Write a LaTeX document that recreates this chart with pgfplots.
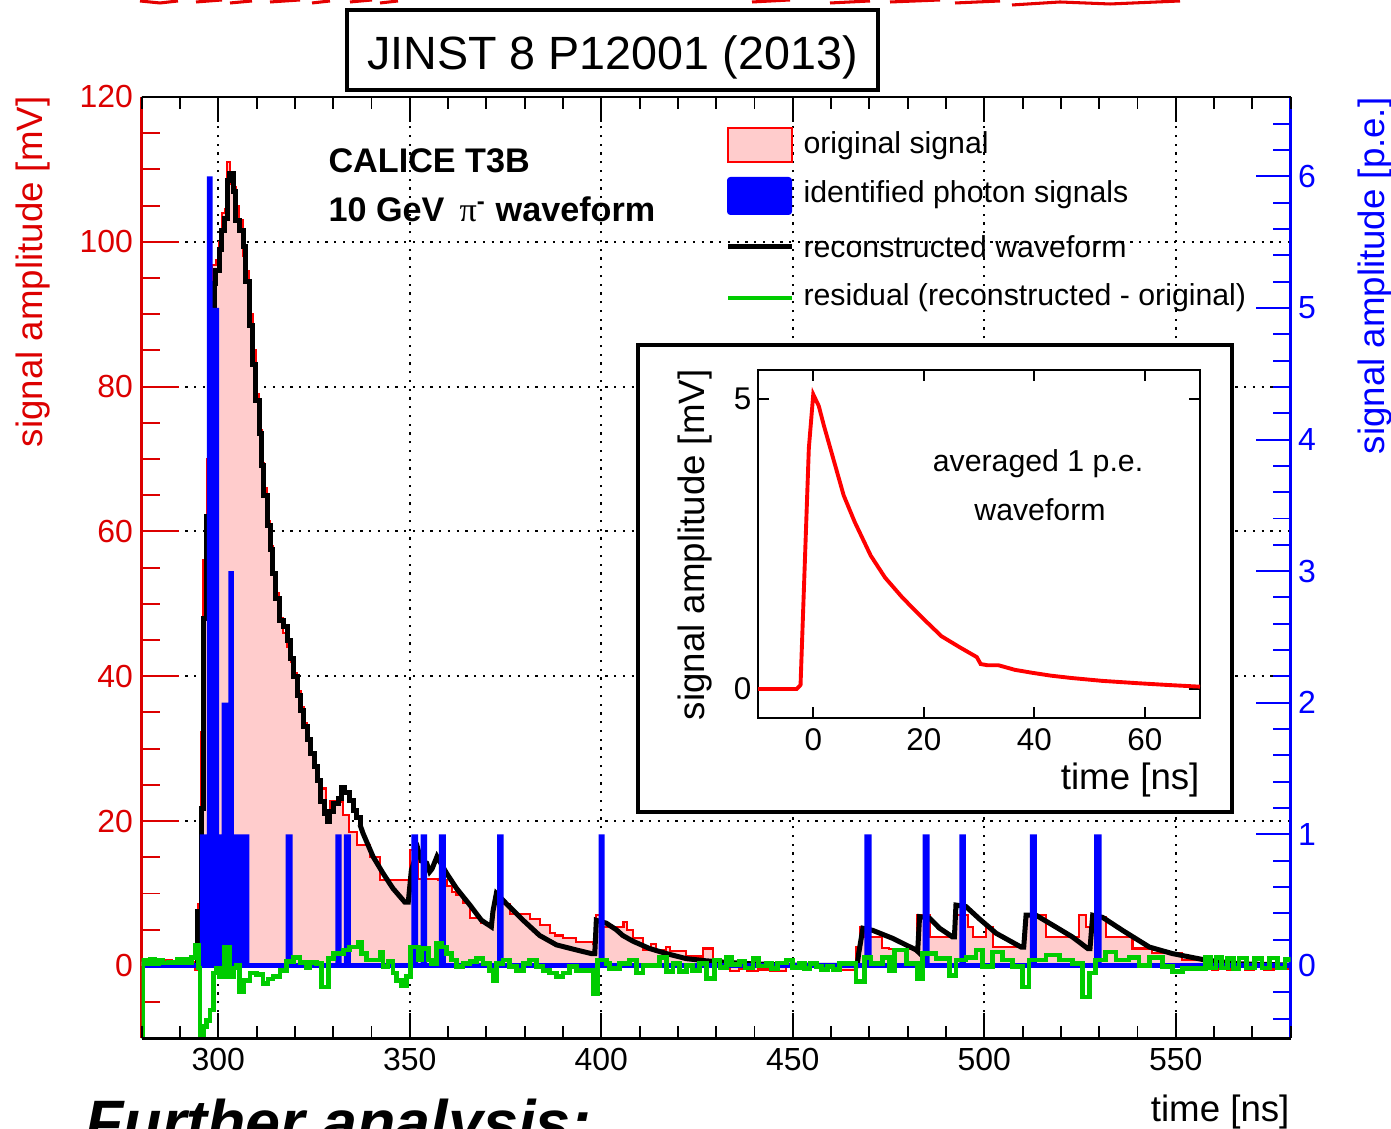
\documentclass[border=0pt]{standalone}
\usepackage{fontspec}
\setmainfont{Liberation Sans}
\newfontfamily\greekserif{Liberation Serif}
\usepackage{pgfplots}
\pgfplotsset{compat=1.18}
\usepackage{pgfplotstable}

\definecolor{axred}{RGB}{220,0,0}
\definecolor{pinkfill}{RGB}{255,204,204}
\definecolor{resgreen}{RGB}{0,204,0}
\definecolor{axblue}{RGB}{0,0,255}

\pgfplotsset{
  mainbox/.style={scale only axis, width=413.64pt, height=338.87pt,
    at={(51.01pt,32.65pt)}, anchor=south west, xmin=280, xmax=580},
  mvaxis/.style={mainbox, ymin=-10, ymax=120},
  peaxis/.style={mainbox, ymin=-0.55, ymax=6.603},
}

% original signal (mV), bin left edge and content
\pgfplotstableread{
x y
280.0 0.6
281.6 0.3
283.2 0.8
284.8 0.4
286.4 0.8
288.0 0.3
289.6 0.7
291.2 0.4
292.8 0.6
293.8 -0.6
294.6 8.5
295.4 32.3
296.1 56.0
297.0 70.0
297.8 84.0
298.4 96.8
299.4 97.5
300.2 100.0
300.9 104.0
301.7 104.5
302.3 111.0
303.0 108.0
303.9 107.5
304.6 105.0
305.5 103.0
306.5 98.0
307.2 96.0
308.1 90.0
309.0 85.0
309.8 79.0
310.7 74.0
311.3 69.5
311.9 66.0
312.8 61.5
313.5 58.0
314.2 54.2
315.0 51.5
315.9 48.0
316.9 46.0
318.0 44.0
318.9 42.0
319.7 40.5
320.6 38.0
321.5 35.8
322.3 33.5
323.2 31.5
324.1 29.4
325.0 27.5
325.8 25.6
326.7 24.5
328.2 21.3
329.1 22.7
332.6 20.8
334.2 18.5
336.1 16.7
339.6 15.1
342.2 11.8
350.0 16.0
352.2 12.0
357.5 11.8
359.6 11.0
361.0 10.2
362.2 9.8
363.9 8.7
365.7 6.6
368.7 5.9
370.9 5.4
371.7 8.7
373.5 8.8
374.5 8.5
376.1 7.2
381.3 6.5
383.9 5.6
385.2 5.6
386.5 4.5
388.0 4.2
390.0 3.8
393.5 3.3
397.8 3.0
398.5 7.0
400.5 5.4
402.5 5.4
405.8 6.1
406.7 5.0
408.3 3.8
410.9 2.2
413.0 3.0
414.3 2.2
417.0 2.6
418.0 2.0
422.2 1.3
426.5 2.4
429.1 0.6
433.5 -0.7
436.0 -0.4
438.0 -0.7
441.0 -0.5
444.0 -0.7
448.3 -0.2
451.7 -0.1
457.0 0.1
462.0 -0.6
466.5 2.6
467.5 5.4
468.7 4.0
473.3 2.5
475.2 2.3
482.4 7.0
485.7 4.0
490.9 4.2
492.4 7.0
495.7 5.4
497.0 4.0
500.5 5.4
502.2 2.6
510.6 7.0
516.1 4.0
524.8 7.0
526.5 5.4
528.3 6.8
531.7 4.0
538.7 2.4
543.9 1.8
551.7 0.8
557.8 0.2
559.5 -0.6
561.0 0.3
563.5 -0.5
565.5 0.2
568.0 -0.6
570.5 0.3
573.0 -0.5
575.5 0.2
578.0 -0.4
580.0 -0.4
}\origdata

% reconstructed waveform, stepped part (mV)
\pgfplotstableread{
x y
280.0 0.0
294.6 7.5
295.6 21.8
296.2 48.0
297.0 62.0
297.8 76.0
298.4 91.0
298.9 94.3
299.4 96.0
300.2 99.0
300.9 101.6
301.7 103.2
302.3 108.5
303.0 109.4
303.9 106.9
304.6 103.0
305.5 101.6
306.5 99.3
307.2 94.5
308.1 88.5
309.0 83.0
309.8 78.1
310.7 73.5
311.3 69.1
311.9 65.0
312.8 60.8
313.5 57.5
314.2 54.2
315.0 50.8
315.9 47.7
316.9 46.9
318.0 45.0
318.9 42.5
319.7 39.9
320.6 37.4
321.5 35.3
322.3 33.0
323.2 31.2
324.1 29.4
325.0 27.5
325.8 25.6
326.7 22.7
327.6 21.0
328.4 19.9
329.1 21.3
330.2 22.4
331.3 23.1
332.2 24.7
333.0 24.0
334.2 22.9
335.2 21.5
336.1 20.5
337.0 19.5
}\recstep

% reconstructed waveform, smooth part (mV)
\pgfplotstableread{
x y
337.0 19.5
337.8 18.3
340.4 15.1
343.0 12.8
345.6 10.7
348.7 8.8
349.6 8.8
350.4 13.2
351.5 15.0
352.2 16.0
353.0 14.5
354.4 14.2
355.2 13.0
355.8 13.4
357.1 15.1
359.6 12.8
362.2 10.7
365.7 8.4
368.7 6.3
371.3 5.4
371.7 7.5
372.6 10.0
375.2 8.6
379.6 6.3
383.9 4.2
388.3 2.9
393.5 2.2
397.4 1.7
398.3 1.7
398.7 6.3
401.3 5.9
403.9 5.0
405.6 4.2
408.3 3.4
412.6 2.4
417.0 1.7
422.2 1.0
427.4 0.7
432.6 0.5
438.7 0.3
450.0 0.1
466.8 0.05
467.2 1.7
468.3 5.2
470.9 4.9
476.1 3.8
482.2 2.2
482.6 2.0
483.1 6.8
485.7 6.6
488.3 5.2
491.7 4.0
492.2 4.0
492.6 8.4
495.2 8.2
498.7 6.5
503.1 4.5
509.6 2.6
510.3 2.6
510.9 7.0
513.5 7.0
517.0 5.9
523.0 4.0
527.0 2.4
527.6 2.4
528.3 7.0
530.9 6.7
536.1 4.9
543.1 2.6
549.1 1.7
557.8 0.8
566.5 0.3
580.0 0.1
}\recsmooth

% residual (mV)
\pgfplotstableread{
x y
280.0 -11
280.3 0.8
281.3 0.3
282.3 0.9
283.3 0.3
284.3 0.8
285.5 0.4
287.0 0.5
288.5 0.4
289.3 0.9
290.0 0.4
290.6 0.9
291.2 0.4
291.8 0.9
292.4 0.5
293.0 1.2
293.9 2.9
294.8 -0.3
295.2 -11
296.1 -8.4
297.0 -7.5
297.8 -6.1
298.7 -1.0
299.6 -0.3
300.4 -1.5
301.7 2.6
303.0 -1.5
303.9 -0.3
304.8 0.1
305.6 -3.6
306.5 -2.0
308.3 -1.0
310.0 -1.2
311.7 -2.4
313.0 -1.8
314.3 -1.5
316.1 -0.6
317.8 0.6
319.6 1.2
321.3 0.5
323.0 -0.3
323.9 0.5
325.7 0.3
327.0 -2.9
328.7 1.0
330.0 1.7
332.6 2.2
334.3 2.6
336.5 3.2
337.4 1.7
338.7 0.8
342.2 1.9
343.0 -0.1
344.3 0.6
345.6 -1.0
346.5 -2.0
347.8 -2.7
349.1 -1.5
350.2 2.6
352.2 0.8
353.0 2.4
354.8 0.8
355.7 0.3
357.0 3.1
358.3 2.6
359.6 1.7
360.9 0.8
362.2 -0.1
363.9 0.3
365.7 0.6
367.4 1.0
369.1 0.3
370.9 -0.6
371.7 -2.0
372.6 0.3
374.3 0.8
376.1 -0.1
377.8 -0.6
379.6 0.3
381.3 0.8
383.0 -0.1
384.8 -0.6
386.5 -1.0
388.3 -1.5
390.0 -1.0
391.7 -0.1
393.5 -0.6
397.8 -3.8
399.1 0.8
401.3 0.3
402.2 -0.4
404.8 0.3
407.4 0.8
409.1 -1.0
410.9 0.1
415.2 1.2
417.0 -0.8
418.7 0.3
420.4 -0.8
422.2 0.1
423.9 -0.6
425.7 0.3
427.4 -1.7
429.6 0.8
431.0 -0.2
432.6 1.2
434.0 0.2
436.1 0.6
437.5 -0.3
439.6 1.0
441.0 0.0
443.1 0.3
444.5 -0.4
446.0 0.4
448.3 0.8
450.0 -0.2
451.7 0.3
453.0 -0.4
454.5 0.3
456.1 -0.1
457.5 -0.5
459.0 -0.1
460.5 -0.5
462.2 0.3
466.5 -2.2
468.7 1.2
470.4 0.3
473.5 1.2
475.2 -0.6
476.5 2.2
479.6 0.3
482.6 -1.7
483.9 1.7
487.4 1.0
490.9 -1.3
492.6 0.8
495.2 1.2
497.8 2.2
499.6 -0.1
502.2 1.9
504.8 0.8
507.4 -0.1
510.0 -2.9
511.7 0.8
516.1 1.5
519.6 0.8
523.0 0.3
525.7 -4.3
527.4 -1.0
529.1 0.8
531.7 1.9
534.4 0.8
537.8 1.2
540.4 0.1
543.1 1.2
546.5 -0.1
549.1 -0.8
551.7 -0.4
557.8 1.2
559.0 -0.3
560.5 1.2
562.0 -0.3
563.5 1.0
565.0 -0.4
566.5 1.1
568.5 -0.3
570.5 1.0
572.5 -0.3
574.5 1.1
576.5 -0.3
578.5 0.9
580.0 0.9
}\resdata

% identified photon signals (p.e.), bin left edge and count
\pgfplotstableread{
x y
280.0 0
295.2 1
297.0 6
298.5 5
300.2 1
300.9 2
302.6 3
304.1 1
308.1 0
317.6 1
319.4 0
330.6 1
332.2 0
332.8 1
334.6 0
350.4 1
352.2 0
352.8 1
354.5 0
357.6 1
359.4 0
372.8 1
374.5 0
399.3 1
400.9 0
468.7 1
470.6 0
483.9 1
485.7 0
493.5 1
495.2 0
511.9 1
513.7 0
528.7 1
530.6 0
580.0 0
}\pedata

\begin{document}
\begin{tikzpicture}
% ---------- grid ----------
\begin{axis}[mvaxis, xtick={300,350,...,550}, ytick={0,20,...,120},
  xmajorgrids, ymajorgrids,
  major grid style={black, line width=0.75pt, dash pattern=on 0.75pt off 2.4pt},
  axis line style={draw=none}, tick style={draw=none},
  xticklabels={}, yticklabels={}, tick label style={opacity=0, text opacity=0},
  major tick length=0pt, minor tick length=0pt]
\addplot[draw=none] coordinates {(300,0)};
\end{axis}

% ---------- original signal and reconstruction (mV, left axis) ----------
\begin{axis}[mvaxis, axis x line=none, axis y line*=left,
  y axis line style={axred, line width=0.9pt},
  ytick={0,20,...,120}, minor ytick={-10,-5,...,120},
  tick align=inside, major tick length=13.3pt, minor tick length=6.5pt,
  tick style={axred, line width=0.7pt},
  yticklabel style={text=axred, font=\fontsize{11.5}{13}\selectfont, anchor=east, inner sep=0pt, xshift=-3pt},
  /pgf/number format/assume math mode=true]
\addplot[const plot, fill=pinkfill, draw=none] table {\origdata} \closedcycle;
\addplot[const plot, draw=red, line width=0.75pt] table {\origdata};
\addplot[const plot, draw=black, line width=1.8pt] table {\recstep};
\addplot[draw=black, line width=1.8pt] table {\recsmooth};
\end{axis}

% ---------- identified photons (p.e., right axis) ----------
\begin{axis}[peaxis, axis x line=none, axis y line*=right,
  y axis line style={axblue, line width=1.1pt},
  ytick={0,1,...,6}, minor ytick={-0.4,-0.2,...,6.6},
  tick align=inside, major tick length=12.5pt, minor tick length=6.2pt,
  tick style={axblue, line width=0.7pt},
  yticklabel style={text=axblue, font=\fontsize{11.5}{13}\selectfont, anchor=west, inner sep=0pt, xshift=2.5pt},
  /pgf/number format/assume math mode=true]
\addplot[const plot, fill=axblue, draw=none] table {\pedata} \closedcycle;
\addplot[axblue, line width=1.8pt] coordinates {(280,0) (580,0)};
\end{axis}

% ---------- residual ----------
\begin{axis}[mvaxis, hide axis]
\addplot[const plot, draw=resgreen, line width=1.7pt] table {\resdata};
\end{axis}

% ---------- x axis ----------
\begin{axis}[mvaxis, axis x line=box, axis y line=none,
  x axis line style={black, line width=0.9pt},
  xtick={300,350,...,550}, minor xtick={280,290,...,580},
  tick align=inside, major tick length=9pt, minor tick length=4.3pt,
  tick style={black, line width=0.7pt},
  xticklabel style={font=\fontsize{11.5}{13}\selectfont, anchor=north, inner sep=0pt, yshift=-3.2pt},
  /pgf/number format/assume math mode=true]
\addplot[draw=none] coordinates {(300,0)};
\end{axis}

% ---------- annotations in pixel coordinates ----------
\begin{scope}[shift={(0pt,406.44pt)}, x=0.36pt, y=-0.36pt]
  % red fragments at the top edge (cut-off slide content)
  \draw[red!90!black, line width=1.1pt] (140,1) -- (160,3) -- (178,1) (196,2) -- (222,0) (230,3) -- (252,1)
     (270,2) -- (300,0) (312,3) -- (330,1) (350,2) -- (372,0) (380,3) -- (398,1)
     (752,2) -- (790,0) (830,3) -- (870,1) (890,2) -- (940,0) (955,3) -- (1000,1)
     (1012,5) -- (1060,2) -- (1110,4) -- (1180,1);
  % title box
  \draw[line width=1.1pt] (347,10) rectangle (878,90);
  \node[anchor=base, inner sep=0pt, font=\fontsize{16.8}{19}\selectfont] at (612.5,70) {JINST 8 P12001 (2013)};
  % axis titles
  \node[rotate=90, anchor=base east, inner sep=0pt, text=axred, font=\fontsize{13.2}{15}\selectfont] at (42,96) {signal amplitude [mV]};
  \node[rotate=90, anchor=base east, inner sep=0pt, text=axblue, font=\fontsize{13.2}{15}\selectfont] at (1384,97) {signal amplitude [p.e.]};
  \node[anchor=base east, inner sep=0pt, font=\fontsize{13.2}{15}\selectfont] at (1290,1122) {time [ns]};
  % CALICE label
  \node[anchor=base west, inner sep=0pt, font=\bfseries\fontsize{12.3}{14}\selectfont] at (328,173) {CALICE T3B};
  \node[anchor=base west, inner sep=0pt, font=\bfseries\fontsize{12.3}{14}\selectfont] at (328,222) {10 GeV\, {\greekserif\mdseries π}\textsuperscript{-} waveform};
  % legend
  \filldraw[fill=pinkfill, draw=red, line width=0.7pt] (728,128) rectangle (792,162);
  \fill[axblue, rounded corners=1.2pt] (727,177) rectangle (792,215);
  \draw[black, line width=1.8pt] (728,247) -- (792,247);
  \draw[resgreen, line width=1.4pt] (728,298) -- (792,298);
  \begin{scope}[every node/.style={anchor=base west, inner sep=0pt, font=\fontsize{10.9}{13}\selectfont}]
    \node at (803,154) {original signal};
    \node at (803,203) {identified photon signals};
    \node at (803,258) {reconstructed waveform};
    \node at (803,306) {residual (reconstructed - original)};
  \end{scope}
  % inset frame
  \filldraw[fill=white, draw=black, line width=1.1pt] (638,345) rectangle (1232,812);
  % inset labels
  \node[rotate=90, anchor=base east, inner sep=0pt, font=\fontsize{13.2}{15}\selectfont] at (704,369) {signal amplitude [mV]};
  \node[anchor=base east, inner sep=0pt, font=\fontsize{13.2}{15}\selectfont] at (1200,790) {time [ns]};
  \node[anchor=base, inner sep=0pt, font=\fontsize{10.9}{13}\selectfont] at (1038,472) {averaged 1 p.e.};
  \node[anchor=base, inner sep=0pt, font=\fontsize{10.9}{13}\selectfont] at (1040,521) {waveform};
  % cut-off slide text
  \node[anchor=base west, inner sep=0pt, font=\bfseries\itshape\fontsize{22.6}{26}\selectfont] at (85,1145) {Further analysis:};
\end{scope}

% ---------- inset ----------
\begin{axis}[scale only axis, at={(272.88pt,147.96pt)}, anchor=south west,
  width=159.12pt, height=125.28pt,
  xmin=-10, xmax=70, ymin=-0.5, ymax=5.5,
  xtick={0,20,40,60}, ytick={0,5},
  tick align=inside, major tick length=4pt,
  axis line style={black, line width=0.8pt}, tick style={black, line width=0.6pt},
  xticklabel style={font=\fontsize{11.3}{13}\selectfont, anchor=north, inner sep=0pt, yshift=-3.5pt},
  yticklabel style={font=\fontsize{11.3}{13}\selectfont, anchor=east, inner sep=0pt, xshift=-2.2pt},
  /pgf/number format/assume math mode=true]
\addplot[red, line width=1.4pt] coordinates {
(-10,0) (-3.0,0) (-2.3,0.07) (-0.8,4.15) (0,5.08) (1.0,4.88) (1.9,4.55) (3.3,4.08)
(5.5,3.34) (7.5,2.88) (10.4,2.30) (13.0,1.92) (16.1,1.58) (19.5,1.25) (23.2,0.91)
(26.5,0.72) (29.6,0.55) (30.3,0.43) (31.5,0.41) (33.5,0.41) (36.5,0.33) (39.6,0.28)
(43.0,0.23) (46.7,0.19) (52.3,0.14) (58.7,0.10) (64.0,0.07) (70,0.04)};
\end{axis}

\pgfresetboundingbox
\useasboundingbox (0,0) rectangle (500.76pt,406.44pt);
\end{tikzpicture}
\end{document}
